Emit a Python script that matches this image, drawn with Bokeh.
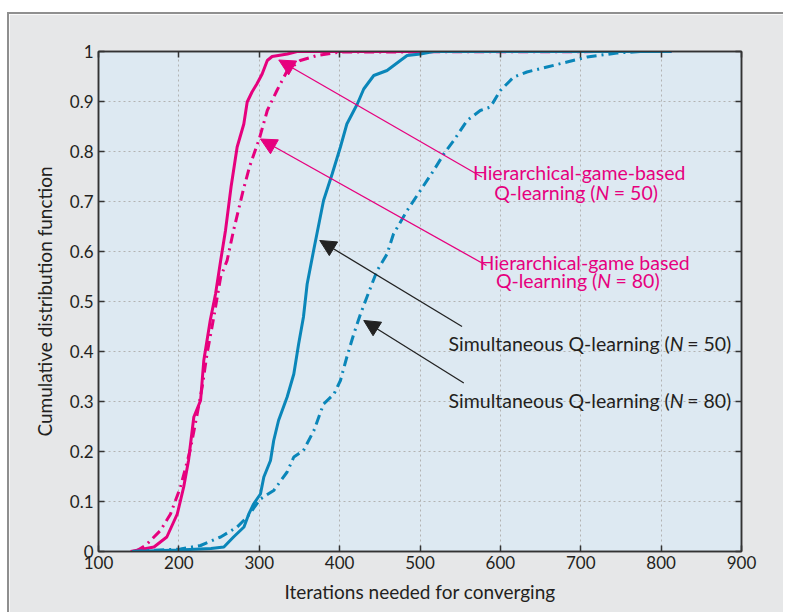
from bokeh.plotting import figure
from bokeh.models import (FixedTicker, LinearAxis, CustomJSTickFormatter, Arrow, NormalHead,
                          Label, Range1d)
from bokeh.embed import file_html
from bokeh.resources import INLINE

# ---- data ----
x_ticks = [100, 200, 300, 400, 500, 600, 700, 800, 900]
y_ticks = [0, 0.1, 0.2, 0.3, 0.4, 0.5, 0.6, 0.7, 0.8, 0.9, 1]

hier50_x = [140, 169, 185, 198, 206, 212, 218.6, 227, 231, 239, 245.6, 252, 258, 265, 272.5, 280.8,
            285, 291, 297, 303.6, 310, 316, 335, 347, 813]
hier50_y = [0, 0.009, 0.029, 0.075, 0.129, 0.182, 0.269, 0.302, 0.382, 0.462, 0.515, 0.582, 0.642,
            0.73, 0.809, 0.855, 0.899, 0.919, 0.935, 0.955, 0.982, 0.99, 0.995, 1.0, 1.0]

hier80_x = [146, 158.5, 177, 189.6, 202, 214, 222.8, 229, 235, 243.5, 252, 260, 268, 280, 288,
            300, 310, 322, 335, 351, 372, 401, 813]
hier80_y = [0, 0.012, 0.042, 0.075, 0.129, 0.202, 0.275, 0.329, 0.395, 0.469, 0.549, 0.582, 0.642,
            0.722, 0.77, 0.825, 0.882, 0.922, 0.962, 0.982, 0.992, 0.999, 1.0]

sim50_x = [142, 200, 240, 256, 268, 281, 287, 293, 301.5, 305.7, 314, 318, 324, 334.7, 343, 349,
           355, 359.6, 368, 380, 390.7, 401, 409, 422, 430, 442.5, 459, 475.6, 484, 500.5, 517, 813]
sim50_y = [0, 0.003, 0.006, 0.009, 0.029, 0.049, 0.075, 0.095, 0.115, 0.149, 0.182, 0.222, 0.262,
           0.309, 0.355, 0.415, 0.469, 0.535, 0.605, 0.702, 0.755, 0.809, 0.855, 0.895, 0.925,
           0.952, 0.962, 0.982, 0.992, 0.995, 1.0, 1.0]

sim80_x = [142, 202, 227, 252, 272.5, 285, 301.5, 318, 334.7, 343, 355, 368, 380, 393, 401, 409,
           417.6, 426, 434, 446.7, 459, 467, 484, 500.5, 517, 529.6, 542, 558.6, 575, 587.6, 600,
           616.6, 633, 658, 683, 708, 745, 774, 813]
sim80_y = [0, 0.005, 0.012, 0.029, 0.049, 0.069, 0.105, 0.122, 0.159, 0.189, 0.202, 0.242, 0.295,
           0.315, 0.342, 0.389, 0.435, 0.475, 0.509, 0.562, 0.595, 0.635, 0.682, 0.722, 0.762,
           0.795, 0.822, 0.862, 0.882, 0.889, 0.922, 0.949, 0.959, 0.969, 0.979, 0.989, 0.997,
           1.0, 1.0]

MAGENTA = "#e6007e"
BLUE = "#0a86b9"
DARK = "#231f20"
FONT = "Lato"
TICK_FS = "17px"
LABEL_FS = "19px"
ANNO_FS = "19.5px"
NB = "\u00a0"

p = figure(width=776, height=600, x_range=Range1d(100, 900), y_range=Range1d(0, 1),
           output_backend="svg", toolbar_location=None,
           min_border_left=89, min_border_right=44, min_border_top=37, min_border_bottom=63,
           background_fill_color="#dde9f2", border_fill_color="#e6e7e8")
p.margin = (12, 0, 0, 7)
p.styles = {"border-top": "2px solid #8f8f8f", "border-left": "2px solid #8f8f8f"}
p.outline_line_color = "#333333"
p.outline_line_width = 1.5

def style_axis(ax, ticks, show_labels):
    ax.ticker = FixedTicker(ticks=ticks)
    ax.major_tick_in = 6
    ax.major_tick_out = 0
    ax.minor_tick_line_color = None
    ax.axis_line_color = "#333333"
    ax.axis_line_width = 1.5
    ax.major_tick_line_color = "#333333"
    ax.major_tick_line_width = 1.5
    ax.major_label_text_font = FONT
    ax.major_label_text_font_size = TICK_FS
    ax.major_label_text_color = DARK
    ax.axis_label_text_font = FONT
    ax.axis_label_text_font_size = LABEL_FS
    ax.axis_label_text_font_style = "normal"
    ax.axis_label_text_color = DARK
    if show_labels:
        ax.formatter = CustomJSTickFormatter(code="return String(Math.round(tick*10)/10);")
    else:
        ax.formatter = CustomJSTickFormatter(code="return '';")

style_axis(p.xaxis[0], x_ticks, True)
style_axis(p.yaxis[0], y_ticks, True)
p.xaxis[0].axis_label = "Iterations needed for converging"
p.yaxis[0].axis_label = "Cumulative distribution function"
p.xaxis[0].major_label_standoff = 4
p.xaxis[0].axis_label_standoff = 8
p.yaxis[0].major_label_standoff = 5
p.yaxis[0].axis_label_standoff = 11

top_ax = LinearAxis()
right_ax = LinearAxis()
style_axis(top_ax, x_ticks, False)
style_axis(right_ax, y_ticks, False)
top_ax.major_label_standoff = 0
right_ax.major_label_standoff = 0
p.add_layout(top_ax, "above")
p.add_layout(right_ax, "right")

for g, t in ((p.xgrid[0], x_ticks), (p.ygrid[0], y_ticks)):
    g.ticker = FixedTicker(ticks=t)
    g.grid_line_color = "#b3b3b3"
    g.grid_line_dash = "2 3"
    g.grid_line_width = 1

DASHDOT = "10 5 2 5"
p.line(hier80_x, hier80_y, line_color=MAGENTA, line_width=3, line_dash=DASHDOT)
p.line(hier50_x, hier50_y, line_color=MAGENTA, line_width=3)
p.line(sim80_x, sim80_y, line_color=BLUE, line_width=3, line_dash=DASHDOT)
p.line(sim50_x, sim50_y, line_color=BLUE, line_width=3)

# arrows
arrows = [
    (577, 0.749, 324.3, 0.983, MAGENTA),
    (582.7, 0.572, 301.5, 0.825, MAGENTA),
    (552.3, 0.45, 375.3, 0.622, "#222222"),
    (554.5, 0.337, 430, 0.462, "#222222"),
]
for xs, ys, xe, ye, c in arrows:
    p.add_layout(Arrow(x_start=xs, y_start=ys, x_end=xe, y_end=ye, line_color=c, line_width=1.3,
                       end=NormalHead(size=16, fill_color=c, line_color=c)))

def lab(x, y, text, color, align="left", style="normal"):
    p.add_layout(Label(x=x, y=y, text=text, text_color=color, text_font=FONT,
                       text_font_size=ANNO_FS, text_align=align, text_baseline="alphabetic",
                       text_font_style=style))

# Hierarchical N = 50
lab(698, 0.7586, "Hierarchical-game-based", MAGENTA, "center")
lab(718.4, 0.7186, "Q-learning (", MAGENTA, "right")
lab(718.4, 0.7186, "N", MAGENTA, "left", "italic")
lab(734.9, 0.7186, NB + "=" + NB + "50)", MAGENTA, "left")
# Hierarchical N = 80
lab(704.7, 0.5786, "Hierarchical-game based", MAGENTA, "center")
lab(720.5, 0.542, "Q-learning (", MAGENTA, "right")
lab(720.5, 0.542, "N", MAGENTA, "left", "italic")
lab(737.0, 0.542, NB + "=" + NB + "80)", MAGENTA, "left")
# Simultaneous
for yb, n in ((0.4154, "50"), (0.302, "80")):
    lab(810.8, yb, "Simultaneous Q-learning (", DARK, "right")
    lab(810.8, yb, "N", DARK, "left", "italic")
    lab(826.2, yb, NB + "=" + NB + n + ")", DARK, "left")

open("out.html", "w").write(file_html(p, INLINE))
